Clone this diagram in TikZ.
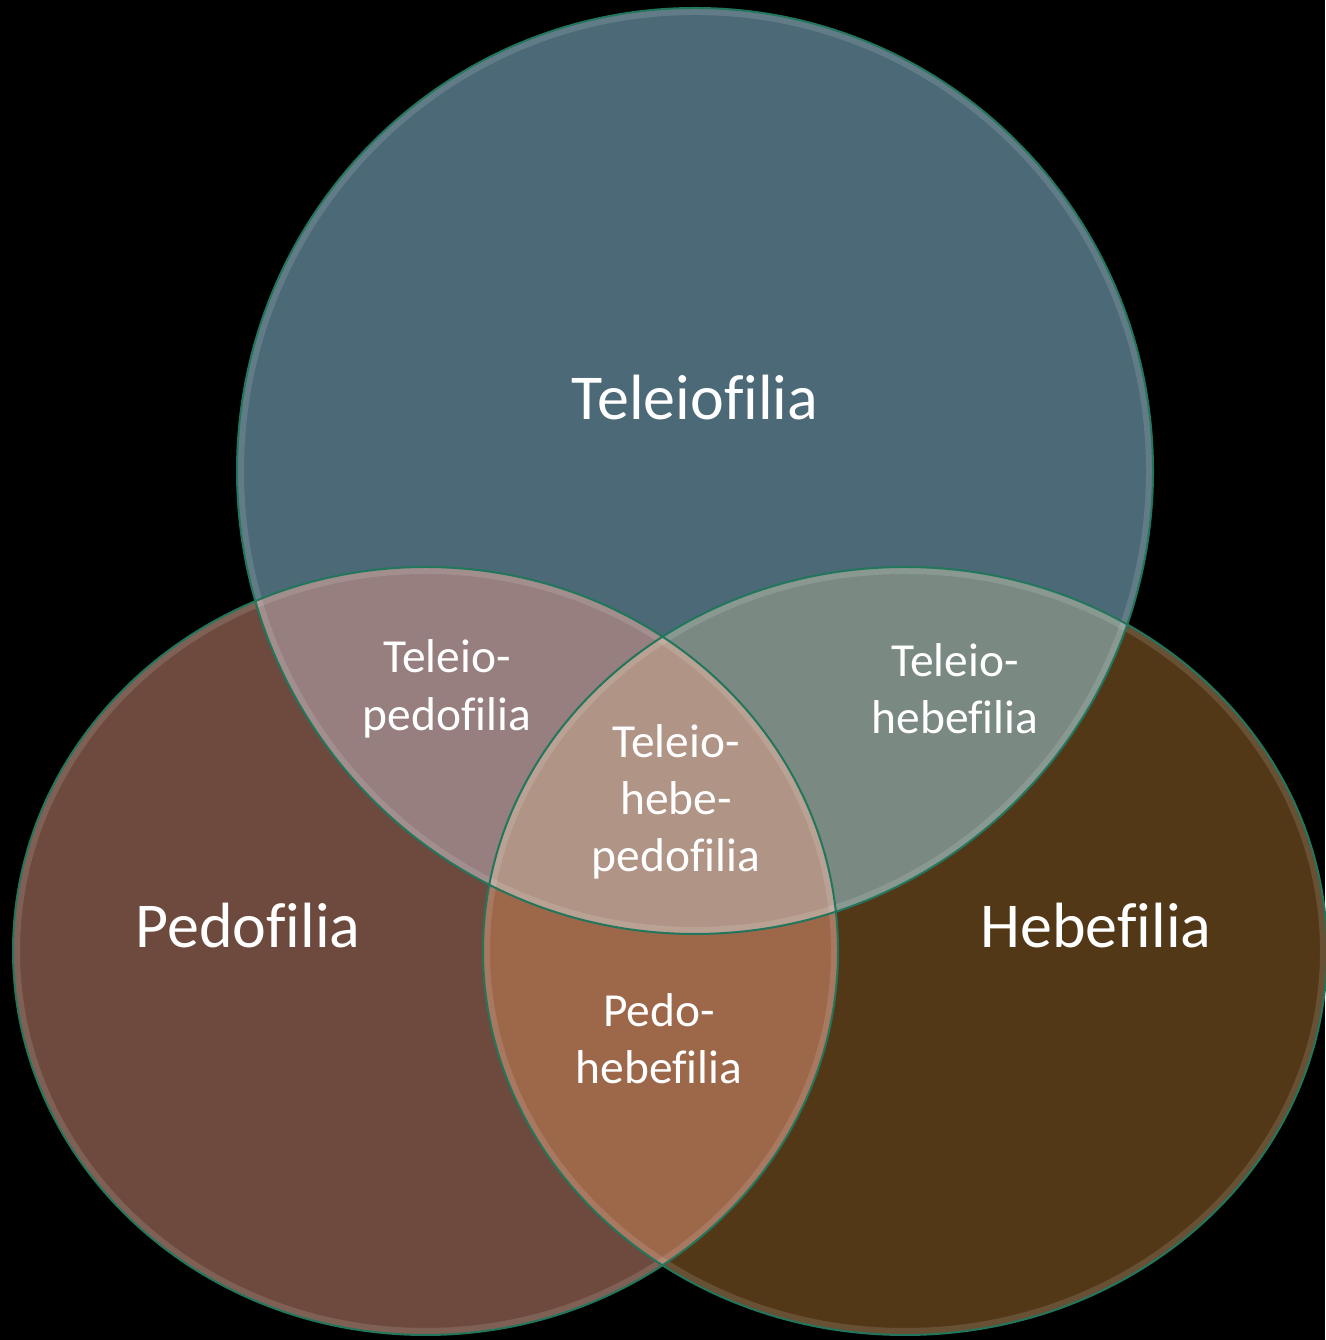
\documentclass[tikz,border=0pt]{standalone}
\usepackage{fontspec}
\setmainfont{Carlito}[Ligatures=NoCommon]

\definecolor{teleiocol}{RGB}{76,105,119}
\definecolor{pedocol}{RGB}{110,74,62}
\definecolor{hebecol}{RGB}{83,56,24}
\definecolor{tpcol}{RGB}{150,127,126}
\definecolor{thcol}{RGB}{122,138,131}
\definecolor{phcol}{RGB}{157,103,74}
\definecolor{thpcol}{RGB}{176,148,134}
\definecolor{rimcol}{RGB}{34,118,92}

\def\teleioshape{(6.95,8.69) ellipse [x radius=4.58, y radius=4.63]}
\def\pedoshape{(4.255,3.89) ellipse [x radius=4.125, y radius=3.84]}
\def\hebeshape{(9.05,3.89) ellipse [x radius=4.22, y radius=3.84]}

\tikzset{
    bigtext/.style={text=white, font=\fontsize{18.2}{21}\selectfont, anchor=base},
    smalltext/.style={text=white, font=\fontsize{13.5}{16.3}\selectfont, align=center},
    rim/.style={draw=rimcol, line width=0.02cm},
    glow/.style={draw=white, draw opacity=0.12, line width=0.14cm}
}

\begin{document}
\begin{tikzpicture}
    % Background
    \fill[black] (0,0) rectangle (13.25,13.40);
    \useasboundingbox (0,0) rectangle (13.25,13.40);

    % Circles
    \fill[teleiocol] \teleioshape;
    \fill[pedocol] \pedoshape;
    \fill[hebecol] \hebeshape;

    % Overlaps
    \begin{scope}
        \clip \teleioshape;
        \fill[tpcol] \pedoshape;
        \fill[thcol] \hebeshape;
    \end{scope}
    \begin{scope}
        \clip \pedoshape;
        \fill[phcol] \hebeshape;
    \end{scope}
    \begin{scope}
        \clip \teleioshape;
        \clip \pedoshape;
        \fill[thpcol] \hebeshape;
    \end{scope}

    % Inner glow
    \begin{scope}
        \clip \teleioshape;
        \path[glow] \teleioshape;
    \end{scope}
    \begin{scope}
        \clip \pedoshape;
        \path[glow] \pedoshape;
    \end{scope}
    \begin{scope}
        \clip \hebeshape;
        \path[glow] \hebeshape;
    \end{scope}

    % Rims
    \path[rim] \teleioshape;
    \path[rim] \pedoshape;
    \path[rim] \hebeshape;

    % Labels
    \node[bigtext] (teleio) at (6.95,9.20) {Teleiofilia};
    \node[bigtext] (pedo) at (2.48,3.92) {Pedofilia};
    \node[bigtext] (hebe) at (10.96,3.92) {Hebefilia};
    \node[smalltext] (tp) at (4.47,6.51) {Teleio-\\pedofilia};
    \node[smalltext] (th) at (9.55,6.51) {Teleio-\\hebefilia};
    \node[smalltext] (thp) at (6.76,5.38) {Teleio-\\hebe-\\pedofilia};
    \node[smalltext] (ph) at (6.59,3.01) {Pedo-\\hebefilia};
\end{tikzpicture}
\end{document}
